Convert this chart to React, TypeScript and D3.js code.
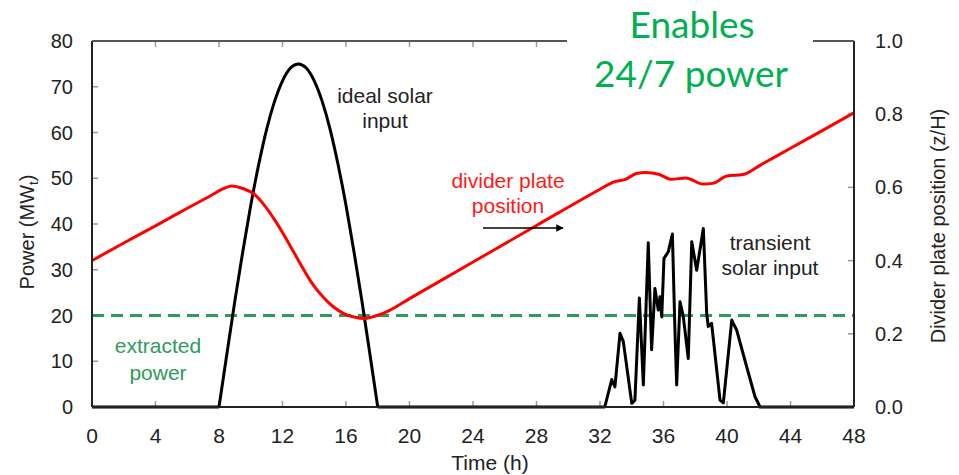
import React from "react";
import * as d3 from "d3";

// ---- Data ----
// Solar input (MW_t): ideal day (8-18 h) followed by transient day (32-42 h)
const solarTime = [
  0, 8, 8.5, 9, 9.5, 10, 10.5, 11, 11.5, 12, 12.5, 13, 13.5, 14, 14.5, 15, 15.5, 16, 16.5, 17, 17.5, 18,
  32, 32.3, 32.74, 32.94, 33.26, 33.47, 34.0, 34.2, 34.48, 34.73, 35.04, 35.25, 35.46, 35.67, 35.78, 35.89,
  36.03, 36.3, 36.56, 36.72, 36.83, 37.04, 37.25, 37.56, 37.78, 38.09, 38.51, 38.72, 38.82, 39.03, 39.56,
  39.77, 40.3, 40.61, 41.24, 41.76, 42.08, 48,
];
const solarPower = [
  0, 0, 11.7, 23.2, 34.0, 44.1, 53.0, 60.7, 66.8, 71.3, 74.1, 75, 74.1, 71.3, 66.8, 60.7, 53.0, 44.1, 34.0, 23.2, 11.7, 0,
  0, 0, 6.0, 4.4, 16.1, 14.3, 0.8, 1.5, 23.8, 4.8, 35.9, 12.5, 25.9, 21.2, 24.1, 19.7,
  32.5, 33.9, 37.8, 16.8, 4.8, 23.0, 19.7, 10.6, 36.1, 29.9, 39.0, 20.5, 17.6, 18.3, 1.5,
  0.9, 19.0, 16.8, 8.8, 2.3, 0, 0,
];

// Divider plate position (z/H)
const plateTime = [
  0, 2, 4, 6, 7.5, 8.2, 8.8, 9.5, 10.2, 10.9, 11.63, 12.4, 13.1, 13.8, 14.57, 15.2, 15.83, 16.5, 17.2, 17.8, 18.56,
  20, 24, 28, 32, 32.8, 33.6, 34.3, 34.9, 35.7, 36.5, 37.4, 38.5, 39.1, 40.0, 41.0, 42.1, 44, 46, 48,
];
const platePos = [
  0.4, 0.448, 0.495, 0.543, 0.578, 0.595, 0.604, 0.597, 0.582, 0.549, 0.503, 0.447, 0.393, 0.342, 0.3, 0.274, 0.256, 0.246, 0.242, 0.248, 0.26,
  0.296, 0.396, 0.496, 0.595, 0.614, 0.622, 0.638, 0.641, 0.636, 0.622, 0.626, 0.609, 0.611, 0.631, 0.635, 0.661, 0.707, 0.755, 0.804,
];

// Extracted power (MW_t)
const extractedTime = [0, 48];
const extractedPower = [20, 20];

const xTicks = [0, 4, 8, 12, 16, 20, 24, 28, 32, 36, 40, 44, 48];
const yLeftTicks = [0, 10, 20, 30, 40, 50, 60, 70, 80];
const yRightTicks = [0, 0.2, 0.4, 0.6, 0.8, 1.0];

const W = 959;
const H = 475;

export default function App() {
  const x = d3.scaleLinear().domain([0, 48]).range([92, 854]);
  const yL = d3.scaleLinear().domain([0, 80]).range([407, 41]);
  const yR = d3.scaleLinear().domain([0, 1]).range([407, 41]);

  const solarData = solarTime.map((t, i) => [t, solarPower[i]] as [number, number]);
  const idealPart = solarData.filter((d) => d[0] >= 8 && d[0] <= 18);
  const restPart1 = solarData.filter((d) => d[0] <= 8);
  const restPart2 = solarData.filter((d) => d[0] >= 18);
  const plateData = plateTime.map((t, i) => [t, platePos[i]] as [number, number]);
  const extData = extractedTime.map((t, i) => [t, extractedPower[i]] as [number, number]);

  const solarLine = d3
    .line<[number, number]>()
    .x((d) => x(d[0]))
    .y((d) => yL(d[1]));
  const solarSmooth = d3
    .line<[number, number]>()
    .x((d) => x(d[0]))
    .y((d) => yL(d[1]))
    .curve(d3.curveNatural);
  const plateLine = d3
    .line<[number, number]>()
    .x((d) => x(d[0]))
    .y((d) => yR(d[1]))
    .curve(d3.curveMonotoneX);
  const extLine = d3
    .line<[number, number]>()
    .x((d) => x(d[0]))
    .y((d) => yL(d[1]));

  const [x0, x1] = x.range();
  const yB = yL(0);
  const yT = yL(80);
  const font = "'Liberation Sans', Arial, sans-serif";
  const green = "#2f9a5c";
  const titleGreen = "#00b050";

  return (
    <svg
      width={W}
      height={H}
      viewBox={`0 0 ${W} ${H}`}
      style={{ position: "absolute", left: 0, top: 0, background: "#fff" }}
    >
      <rect x={0} y={0} width={W} height={H} fill="#fff" />
      <defs>
        <marker id="arr" viewBox="0 0 10 10" refX="9" refY="5" markerWidth="5" markerHeight="5" orient="auto">
          <path d="M0,0 L10,5 L0,10 z" fill="#000" />
        </marker>
      </defs>

      {/* ticks (inward) */}
      {xTicks.map((t) => (
        <g key={"xt" + t}>
          <line x1={x(t)} x2={x(t)} y1={yB} y2={yB - 6} stroke="#999" strokeWidth={1.5} />
          <line x1={x(t)} x2={x(t)} y1={yT} y2={yT + 6} stroke="#999" strokeWidth={1.5} />
        </g>
      ))}
      {yLeftTicks.map((v) => (
        <line key={"yl" + v} x1={x0} x2={x0 + 6} y1={yL(v)} y2={yL(v)} stroke="#999" strokeWidth={1.5} />
      ))}
      {yRightTicks.map((v) => (
        <line key={"yr" + v} x1={x1} x2={x1 - 6} y1={yR(v)} y2={yR(v)} stroke="#999" strokeWidth={1.5} />
      ))}

      {/* extracted power */}
      <path d={extLine(extData) || ""} fill="none" stroke={green} strokeWidth={3} strokeDasharray="12 7" />

      {/* solar input */}
      <path d={solarLine(restPart1) || ""} fill="none" stroke="#000" strokeWidth={3} strokeLinejoin="round" />
      <path d={solarSmooth(idealPart) || ""} fill="none" stroke="#000" strokeWidth={3} strokeLinejoin="round" />
      <path d={solarLine(restPart2) || ""} fill="none" stroke="#000" strokeWidth={3} strokeLinejoin="round" />

      {/* divider plate position */}
      <path d={plateLine(plateData) || ""} fill="none" stroke="#ff0000" strokeWidth={3} />

      {/* frame */}
      <line x1={x0} x2={x0} y1={yT} y2={yB} stroke="#222" strokeWidth={2} />
      <line x1={x1} x2={x1} y1={yT} y2={yB} stroke="#222" strokeWidth={2} />
      <line x1={x0} x2={x1} y1={yB} y2={yB} stroke="#222" strokeWidth={2} />
      <line x1={x0} x2={x1} y1={yT} y2={yT} stroke="#555" strokeWidth={2} />

      {/* tick labels */}
      {xTicks.map((t) => (
        <text key={"xl" + t} x={x(t)} y={yB + 36} textAnchor="middle" fontFamily={font} fontSize={21} fill="#222">
          {t}
        </text>
      ))}
      {yLeftTicks.map((v) => (
        <text key={"yll" + v} x={x0 - 19} y={yL(v)} dy="0.35em" textAnchor="end" fontFamily={font} fontSize={20} fill="#222">
          {v}
        </text>
      ))}
      {yRightTicks.map((v) => (
        <text key={"yrl" + v} x={x1 + 21} y={yR(v)} dy="0.35em" textAnchor="start" fontFamily={font} fontSize={20} fill="#222">
          {v.toFixed(1)}
        </text>
      ))}

      {/* axis titles */}
      <text x={490} y={470} textAnchor="middle" fontFamily={font} fontSize={21} fill="#222">
        Time (h)
      </text>
      <text transform="translate(34,232) rotate(-90)" textAnchor="middle" fontFamily={font} fontSize={20} fill="#222">
        Power (MW<tspan fontSize={13} dy={4}>t</tspan>
        <tspan dy={-4}>)</tspan>
      </text>
      <text transform="translate(945,226) rotate(-90)" textAnchor="middle" fontFamily={font} fontSize={20} fill="#222">
        Divider plate position (z/H)
      </text>

      {/* annotations */}
      <text x={385} y={103} textAnchor="middle" fontFamily={font} fontSize={21} fill="#222">
        ideal solar
      </text>
      <text x={385} y={128} textAnchor="middle" fontFamily={font} fontSize={21} fill="#222">
        input
      </text>
      <text x={508} y={188} textAnchor="middle" fontFamily={font} fontSize={21} fill="#ff1a1a">
        divider plate
      </text>
      <text x={508} y={213} textAnchor="middle" fontFamily={font} fontSize={21} fill="#ff1a1a">
        position
      </text>
      <line x1={483} x2={563} y1={228} y2={228} stroke="#000" strokeWidth={1.5} markerEnd="url(#arr)" />
      <text x={770} y={250} textAnchor="middle" fontFamily={font} fontSize={21} fill="#222">
        transient
      </text>
      <text x={770} y={275} textAnchor="middle" fontFamily={font} fontSize={21} fill="#222">
        solar input
      </text>
      <text x={158} y={353} textAnchor="middle" fontFamily={font} fontSize={21} fill={green}>
        extracted
      </text>
      <text x={158} y={380} textAnchor="middle" fontFamily={font} fontSize={21} fill={green}>
        power
      </text>

      {/* title box */}
      <rect x={567} y={0} width={246} height={100} fill="#fff" />
      <text x={692} y={38} textAnchor="middle" fontFamily="Lato, 'Open Sans', sans-serif" fontSize={37} fill={titleGreen}>
        Enables
      </text>
      <text x={691} y={87} textAnchor="middle" fontFamily="Lato, 'Open Sans', sans-serif" fontSize={37} fill={titleGreen}>
        24/7 power
      </text>
    </svg>
  );
}
